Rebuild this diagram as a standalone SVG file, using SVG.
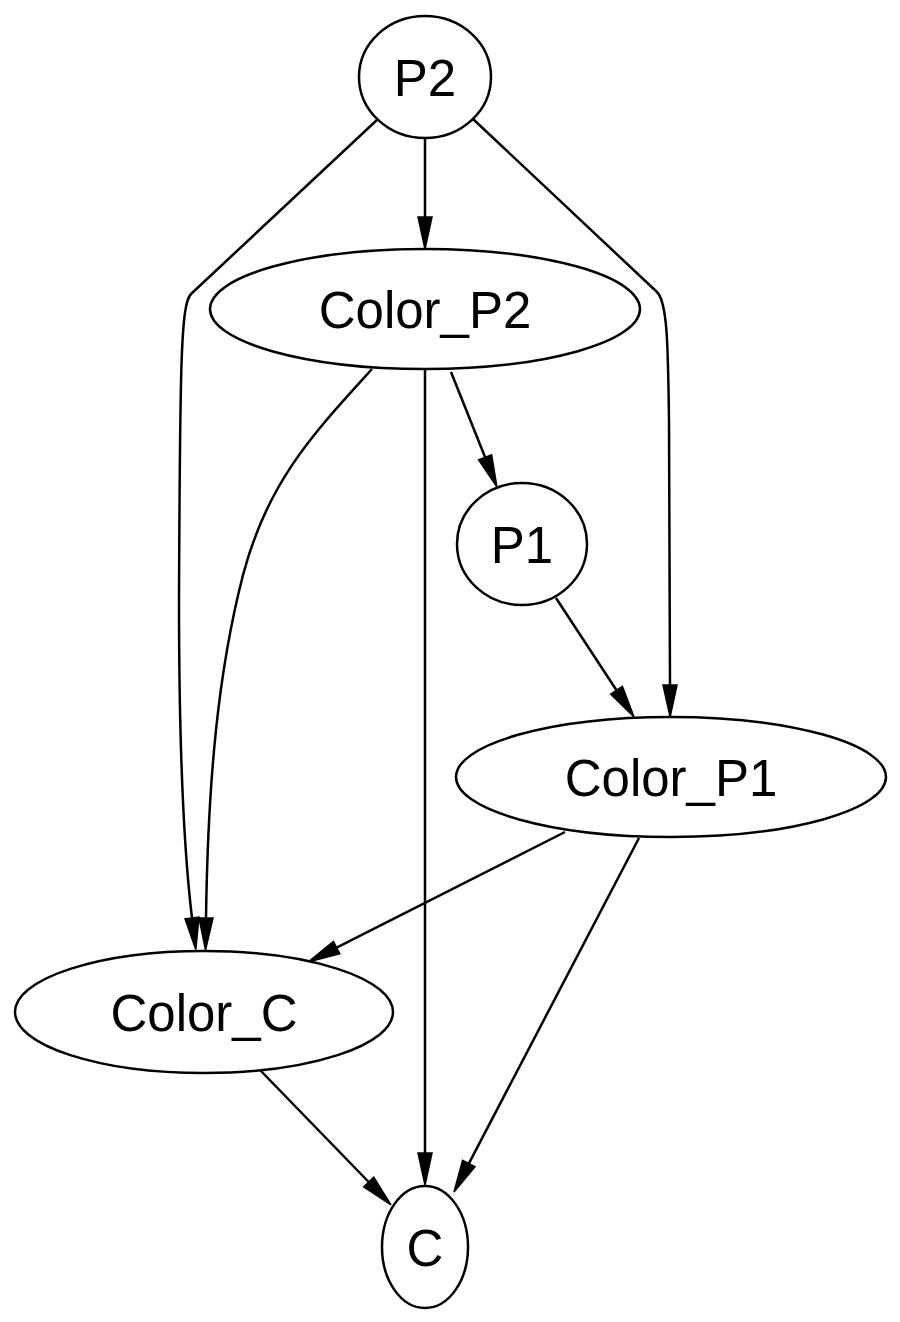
<svg xmlns="http://www.w3.org/2000/svg" width="900" height="1322" viewBox="0 0 900 1322">
<style>
.node ellipse{fill:#fff;stroke:#000;stroke-width:2.5}
.node text{font-family:"Liberation Sans",Arial,sans-serif;font-size:51px;fill:#000;text-anchor:middle}
.edges path{fill:none;stroke:#000;stroke-width:2.5;marker-end:url(#arr)}
</style>
<defs>
<marker id="arr" markerUnits="userSpaceOnUse" markerWidth="40" markerHeight="20" refX="0" refY="0" orient="auto" viewBox="0 -10 40 20" overflow="visible">
<path d="M0,-7 L32,0 L0,7 z" fill="#000" stroke="#000" stroke-width="1.5"/>
</marker>
</defs>
<rect width="900" height="1322" fill="#fff"/>
<g id="edges" class="edges">
<path id="e_P2_ColorP2" d="M425,138 L425,217"/>
<path id="e_P2_ColorC" d="M378,119 L191,294 C181,304 180,360 179,600 C179,760 185,860 192,918"/>
<path id="e_P2_ColorP1" d="M473,119 L657,292 C667,302 668,340 669,420 L670,685"/>
<path id="e_ColorP2_ColorC" d="M372,369 C315,432 268,480 243,575 C218,672 208,780 206,918"/>
<path id="e_ColorP2_C" d="M425,369 L425,1153"/>
<path id="e_ColorP2_P1" d="M451,372 L485.1,457.3"/>
<path id="e_P1_ColorP1" d="M556,598 L616.5,690.2"/>
<path id="e_ColorP1_ColorC" d="M565,832 L336.6,947.6"/>
<path id="e_ColorP1_C" d="M639,838 L468.8,1163.6"/>
<path id="e_ColorC_C" d="M260,1070 L368.7,1182"/>
</g>
<g id="P2" class="node"><ellipse cx="425" cy="77" rx="66" ry="61"/><text x="425" y="96">P2</text></g>
<g id="Color_P2" class="node"><ellipse cx="425" cy="309" rx="215" ry="60"/><text x="425" y="328">Color_P2</text></g>
<g id="P1" class="node"><ellipse cx="522" cy="544" rx="65" ry="61"/><text x="522" y="563">P1</text></g>
<g id="Color_P1" class="node"><ellipse cx="671" cy="777" rx="215" ry="60"/><text x="671" y="796">Color_P1</text></g>
<g id="Color_C" class="node"><ellipse cx="204" cy="1012" rx="189" ry="61"/><text x="204" y="1031">Color_C</text></g>
<g id="C" class="node"><ellipse cx="425" cy="1247" rx="43" ry="61"/><text x="425" y="1266">C</text></g>
</svg>
